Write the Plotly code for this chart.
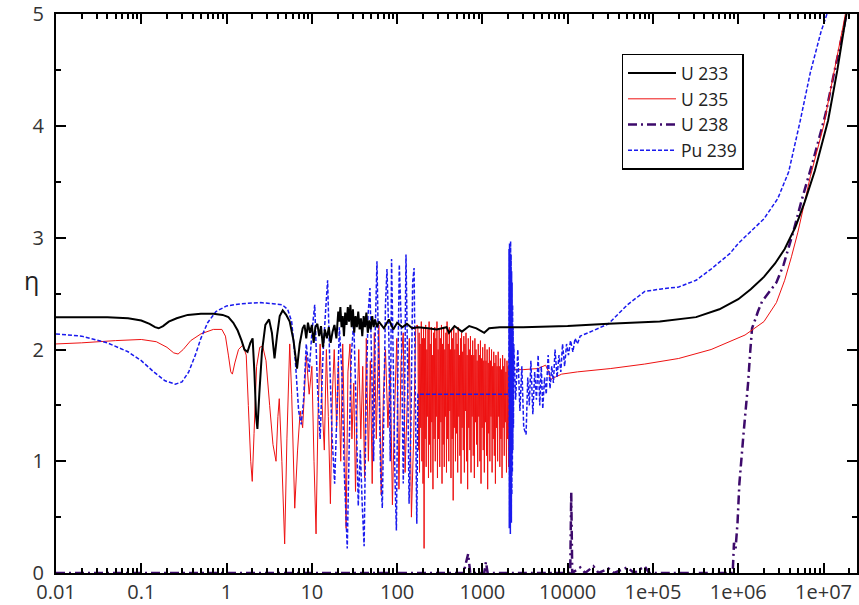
import plotly.graph_objects as go

# ---------------- data ----------------
u233_E = [0.01, 0.02, 0.04, 0.07, 0.1, 0.125, 0.145, 0.16, 0.18, 0.21, 0.26, 0.35, 0.5, 0.7, 0.9,
          1.05, 1.2, 1.35, 1.5, 1.62, 1.76, 1.9, 2.02, 2.12, 2.22, 2.3, 2.42, 2.6, 2.85, 3.15, 3.4,
          3.65, 3.9, 4.2, 4.55, 5.0, 5.5, 6.1, 6.7, 7.2, 7.8,
          8.2, 8.6, 9.0, 9.5, 10.0, 10.5, 11.0, 11.6, 12.2, 12.8, 13.5, 14.2, 15.0, 15.8, 16.6,
          17.5, 18.4, 19.4, 20.4, 21.0, 21.6, 22.3, 23.0, 23.8, 24.6, 25.5, 26.4, 27.3, 28.3,
          29.3, 30.3, 31.4, 32.5, 33.7, 35.0, 36.3, 37.6, 39.0, 40.5, 42.0, 43.6, 45.3, 47.0,
          49.0, 51.0, 53.0, 55.0, 58.0, 61.0, 70, 80, 90, 100, 115, 130, 150, 175, 230, 290,
          380, 405, 470, 575, 700, 850, 1050, 1200, 1600, 3000, 1e4, 3e4, 1.2e5, 3.2e5, 6e5,
          1e6, 1.4e6, 2e6, 2.7e6, 3.5e6, 4.7e6, 6e6, 7.9e6, 1.13e7, 1.45e7, 1.76e7, 1.9e7]
u233_eta = [2.29, 2.29, 2.29, 2.28, 2.26, 2.23, 2.2, 2.19, 2.21, 2.25, 2.28, 2.31, 2.32, 2.32, 2.31,
            2.29, 2.24, 2.17, 2.08, 2.0, 1.98, 2.06, 2.1, 1.8, 1.4, 1.29, 1.6, 1.98, 2.22, 2.27, 2.15,
            1.92, 2.12, 2.3, 2.35, 2.31, 2.25, 2.08, 1.83, 2.05, 2.19,
            2.22, 2.1, 2.24, 2.15, 2.22, 2.06, 2.2, 2.23, 2.12, 2.21, 2.02, 2.18, 2.1, 2.2, 2.06,
            2.16, 2.22, 2.1, 2.34, 2.25, 2.38, 2.2, 2.3, 2.12, 2.33, 2.22, 2.38, 2.25, 2.4,
            2.2, 2.36, 2.15, 2.3, 2.2, 2.34, 2.18, 2.28, 2.12, 2.3, 2.2, 2.33, 2.15, 2.26,
            2.18, 2.3, 2.2, 2.27, 2.2, 2.25, 2.19, 2.27, 2.18, 2.24, 2.2, 2.23, 2.19, 2.2, 2.19, 2.18,
            2.2, 2.15, 2.21, 2.16, 2.21, 2.19, 2.15, 2.19, 2.2, 2.2, 2.21, 2.23, 2.25, 2.29, 2.36,
            2.45, 2.54, 2.65, 2.77, 2.9, 3.1, 3.32, 3.6, 4.05, 4.5, 4.9, 5.05]

u235_low_E = [0.01, 0.02, 0.05, 0.1, 0.15, 0.2, 0.24, 0.27, 0.31, 0.38, 0.5, 0.7, 0.88, 0.97, 1.05,
              1.12, 1.17, 1.25, 1.38, 1.55, 1.7, 1.8, 1.92, 2.0, 2.1, 2.25, 2.45, 2.65, 2.9, 3.2, 3.5,
              3.8, 4.0, 4.15, 4.45, 4.8, 5.1, 5.5, 5.8, 6.3, 6.8, 7.3, 7.8, 8.6, 9.3, 10.0, 10.6,
              11.2, 11.8, 12.5, 13.2, 14.0, 14.8, 15.6, 16.5, 17.4, 18.3, 19.5, 20.5, 21.8, 23.0,
              24.2, 25.2, 26.5, 28.0, 29.5, 31.0, 32.5, 34.0, 35.5, 37.5, 39.5, 41.5, 43.5, 46.0,
              48.5, 51.0, 54.0, 57.0, 61.0, 65.0, 69.0, 73.0, 78.0, 83.0, 88.0, 93.0, 99.0, 105,
              111, 118, 124, 131, 139, 147, 156, 165, 172]
u235_low_eta = [2.05, 2.06, 2.08, 2.09, 2.07, 2.02, 1.97, 1.96, 2.0, 2.08, 2.14, 2.18, 2.18, 2.12, 1.95,
                1.8, 1.78, 1.88, 2.0, 2.04, 1.95, 1.5, 1.0, 0.82, 1.25, 1.85, 2.02, 2.03, 1.9, 1.5, 1.15,
                1.0, 1.4, 1.56, 1.0, 0.26, 1.2, 2.05, 1.6, 0.58, 1.1, 1.45, 1.3, 1.95, 1.6, 1.85, 1.0,
                0.35, 1.4, 2.05, 1.5, 1.1, 2.0, 1.4, 0.62, 1.6, 2.0, 1.3, 1.9, 1.0, 2.05,
                1.2, 0.4, 1.8, 2.05, 1.2, 1.7, 0.73, 1.5, 2.0, 1.2, 1.85, 0.85, 2.1, 1.0,
                1.9, 0.8, 2.15, 1.2, 2.22, 0.7, 1.6, 2.0, 1.3, 1.85, 0.61, 1.4, 2.1, 0.75,
                1.9, 2.15, 0.9, 1.5, 2.1, 0.5, 1.2, 2.2, 2.22]

u235_dense_E = [175, 178, 181, 183, 186, 189, 192, 195, 198, 201,
                204, 207, 210, 213, 216, 219, 223, 226, 230, 233,
                237, 240, 244, 248, 252, 255, 259, 263, 267, 271,
                276, 280, 284, 288, 293, 297, 302, 306, 311, 316,
                321, 326, 331, 336, 341, 346, 351, 357, 362, 368,
                373, 379, 385, 391, 397, 403, 409, 415, 421, 428,
                434, 441, 448, 454, 461, 468, 475, 483, 490, 497,
                505, 513, 520, 528, 536, 544, 553, 561, 569, 578,
                587, 596, 605, 614, 623, 632, 642, 652, 661, 671,
                682, 692, 702, 713, 724, 735, 746, 757, 769, 780,
                792, 804, 816, 829, 841, 854, 867, 880, 893, 907,
                920, 934, 948, 963, 977, 992, 1007, 1022, 1037, 1053,
                1069, 1085, 1101, 1118, 1135, 1152, 1169, 1187, 1205, 1223,
                1241, 1260, 1279, 1298, 1318, 1338, 1358, 1378, 1399, 1420,
                1441, 1463, 1485, 1507, 1530, 1553, 1576, 1600, 1624, 1648,
                1673, 1698, 1724, 1750, 1776, 1803, 1830, 1857, 1885, 1914,
                1942, 1972, 2001, 2031, 2062, 2093, 2125]
u235_dense_eta = [2.2, 1.1, 2.15, 0.9, 2.05, 1.3, 2.25, 1.0, 2.1, 0.8,
                  2.2, 0.22, 2.1, 1.2, 2.22, 0.95, 2.0, 1.4, 2.18, 0.85,
                  2.25, 1.15, 2.05, 0.9, 2.2, 1.35, 1.95, 0.75, 2.15, 1.2,
                  2.2, 1.0, 2.1, 1.4, 2.25, 0.85, 2.0, 1.2, 2.18, 0.95,
                  2.1, 1.35, 2.22, 0.8, 2.05, 1.15, 2.2, 0.95, 2.0, 1.4,
                  2.15, 0.9, 2.25, 1.2, 2.05, 1.0, 2.2, 1.45, 2.0, 0.85,
                  2.18, 1.2, 2.1, 0.65, 2.2, 1.3, 2.0, 1.0, 2.15, 1.25,
                  2.05, 0.9, 2.2, 1.4, 1.95, 1.05, 2.1, 0.8, 2.15, 1.3,
                  1.98, 1.1, 2.12, 0.9, 2.05, 1.45, 2.15, 1.0, 1.95, 0.75,
                  2.1, 1.3, 2.0, 1.1, 2.12, 0.9, 1.95, 1.4, 2.08, 1.05,
                  1.95, 0.85, 2.1, 1.35, 2.0, 1.15, 1.9, 0.95, 2.05, 1.4,
                  1.95, 1.0, 2.08, 0.8, 1.92, 1.3, 2.02, 1.1, 1.9, 0.9,
                  2.05, 1.35, 1.9, 1.05, 2.0, 0.75, 1.88, 1.25, 2.02, 1.0,
                  1.9, 1.4, 2.0, 0.9, 1.85, 1.2, 1.98, 1.05, 1.88, 0.8,
                  1.95, 1.3, 1.85, 1.0, 1.98, 1.4, 1.85, 0.95, 1.92, 1.2,
                  1.82, 0.85, 1.95, 1.3, 1.85, 1.05, 1.92, 1.35, 1.8, 0.9,
                  1.9, 1.2, 1.85, 0.95, 1.9, 0.72, 1.88]

u235_high_E = [2140, 2300, 3000, 4500, 5500, 6000, 6300, 7000, 8500, 1.3e4, 3.2e4, 8e4, 2e5, 4.8e5,
               1.2e6, 2e6, 2.8e6, 3.5e6, 4.2e6, 5e6, 7e6, 1e7, 1.3e7, 1.7e7, 1.85e7]
u235_high_eta = [1.82, 1.82, 1.82, 1.83, 1.86, 1.8, 1.73, 1.75, 1.78, 1.8, 1.83, 1.87, 1.92, 2.0,
                 2.13, 2.25, 2.42, 2.62, 2.83, 3.05, 3.55, 4.0, 4.45, 4.9, 5.05]

u238_E = [0.01, 600, 680, 720, 1050, 1100, 1150, 1.07e4, 1.1e4, 1.13e4, 1.4e4, 1.6e4, 2.0e4, 2.3e4,
          3e4, 3.5e4, 5e4, 6e4, 8e4, 9e4, 8.6e5, 8.9e5, 9.3e5, 9.8e5, 1.03e6, 1.15e6, 1.3e6, 1.38e6,
          1.45e6, 1.6e6, 1.7e6, 1.9e6, 2.8e6, 3.4e6, 4.4e6, 5.6e6, 7.6e6, 1.05e7, 1.35e7, 1.75e7, 1.9e7]
u238_eta = [0, 0, 0.17, 0, 0, 0.1, 0, 0, 0.72, 0, 0.05, 0, 0.06, 0,
            0.04, 0, 0.05, 0, 0.06, 0, 0, 0.27, 0.22, 0.45, 0.8, 1.24, 1.69, 1.98,
            2.19, 2.28, 2.34, 2.43, 2.6, 2.76, 3.05, 3.35, 3.7, 4.1, 4.5, 4.9, 5.05]

pu239_E = [0.01, 0.02, 0.04, 0.07, 0.1, 0.14, 0.19, 0.25, 0.3, 0.36, 0.43, 0.5, 0.6, 0.75, 1.0,
           1.5, 2.5, 3.5, 4.5, 5.2, 5.8, 6.4, 7.0, 7.5, 8.0, 8.6, 9.3, 10.0, 10.8, 11.6, 12.5,
           13.5, 14.5, 15.3, 16.2, 17.3, 18.5, 19.8, 21.0, 22.5, 24.0, 26.0, 27.5, 29.0, 31.0,
           33.0, 35.0, 37.0, 39.0, 41.0, 43.0, 45.5, 48.0, 50.5, 53.0, 55.5, 58.0, 61.0, 64.0,
           67.0, 70.0, 73.0, 76.0, 80.0, 83.0, 86.0, 90.0, 94.0, 98.0, 102, 106, 112, 118, 122,
           127, 132, 138, 145, 152, 158, 164, 170, 175, 2040,
           2050, 2065, 2080, 2095, 2110, 2125, 2140, 2155, 2170, 2185, 2200, 2215, 2230, 2245,
           2260, 2275, 2290, 2310, 2330,
           2450, 2600, 2750, 2900, 3050, 3250, 3400, 3550, 3700, 3900, 4100, 4300, 4500, 4700,
           4900, 5100, 5350, 5600, 5900, 6200, 6500, 6800, 7100, 7500, 7900, 8300, 8700, 9200,
           9700, 10200, 10800, 11500, 12200, 13000, 14000, 20000, 30000, 50000, 80000, 1.2e5,
           2e5, 3.2e5, 4.8e5, 8e5, 1e6, 2e6, 2.9e6, 3.9e6, 5.3e6, 7e6, 9.3e6, 1.15e7]
pu239_eta = [2.14, 2.12, 2.06, 1.98, 1.9, 1.8, 1.72, 1.69, 1.71, 1.8, 1.95, 2.1, 2.24, 2.34, 2.39,
             2.41, 2.42, 2.41, 2.4, 2.36, 2.25, 1.9, 1.45, 1.33, 1.55, 2.05, 1.8, 2.15, 2.4, 1.7, 1.2,
             1.95, 2.35, 2.62, 1.9, 1.2, 0.8, 1.5, 2.2, 1.8, 0.9, 0.22, 1.2, 1.95, 2.25,
             1.5, 0.6, 1.1, 0.6, 0.24, 1.4, 2.3, 2.55, 1.8, 1.0, 2.2, 2.79, 1.8, 0.9,
             0.58, 1.5, 2.4, 2.72, 2.1, 1.0, 2.81, 1.9, 0.9, 0.38, 1.8, 2.76, 2.2, 0.8, 1.5,
             2.85, 2.0, 0.62, 1.3, 2.6, 2.73, 1.5, 0.44, 1.6, 1.6,
             2.9, 0.4, 2.95, 0.5, 2.8, 0.35, 2.97, 0.6, 2.85, 0.45, 2.7, 0.7, 2.6, 0.9,
             2.4, 1.1, 2.2, 1.3, 2.05,
             1.55, 2.0, 1.45, 1.85, 1.3, 1.24, 1.75, 1.5, 1.9, 1.42, 1.8, 1.55, 1.95, 1.5,
             1.85, 1.47, 1.75, 1.6, 1.95, 1.65, 1.85, 1.7, 2.0, 1.75, 1.95, 1.8, 2.05, 1.85,
             2.05, 1.95, 2.08, 1.98, 2.1, 2.05, 2.12, 2.17, 2.23, 2.4, 2.52, 2.54,
             2.56, 2.62, 2.72, 2.86, 2.95, 3.17, 3.35, 3.59, 4.04, 4.48, 4.84, 5.05]

x_tickvals = [0.01, 0.1, 1, 10, 100, 1000, 10000, 1e5, 1e6, 1e7]
x_ticktext = ["0.01", "0.1", "1", "10", "100", "1000", "10000", "1e+05", "1e+06", "1e+07"]
y_tickvals = [0, 1, 2, 3, 4, 5]

u235_E = u235_low_E + u235_dense_E + u235_high_E
u235_eta = u235_low_eta + u235_dense_eta + u235_high_eta

# ---------------- figure ----------------
FONT = "Open Sans"
fig = go.Figure()

fig.add_trace(go.Scatter(x=u238_E, y=u238_eta, mode="lines", name="U 238", legendrank=3,
                         line=dict(color="#3d0a6b", width=2.5, dash="9px,4px,2px,4px", simplify=False)))
fig.add_trace(go.Scatter(x=u235_E, y=u235_eta, mode="lines", name="U 235", legendrank=2,
                         line=dict(color="#ee1111", width=1, simplify=False)))
fig.add_trace(go.Scatter(x=pu239_E, y=pu239_eta, mode="lines", name="Pu 239", legendrank=4,
                         line=dict(color="#1a1aee", width=1.5, dash="4px,2px", simplify=False)))
fig.add_trace(go.Scatter(x=u233_E, y=u233_eta, mode="lines", name="U 233", legendrank=1,
                         line=dict(color="black", width=2, simplify=False)))

minor_x = [m * 10 ** k for k in range(-2, 8) for m in range(2, 10)]

fig.update_xaxes(type="log", range=[-2, 7.392], tickvals=x_tickvals, ticktext=x_ticktext,
                 ticks="inside", ticklen=10, tickwidth=2, tickcolor="black",
                 minor=dict(tickvals=minor_x, ticks="inside", ticklen=5, tickwidth=1.5, tickcolor="black"),
                 showline=True, linecolor="black", linewidth=2, mirror="ticks",
                 showgrid=False, zeroline=False, ticklabeloverflow="allow",
                 tickfont=dict(family=FONT, size=20, color="#333333"))
fig.update_yaxes(range=[0, 5.003], tickvals=y_tickvals,
                 ticks="inside", ticklen=10, tickwidth=2, tickcolor="black",
                 minor=dict(dtick=0.5, ticks="inside", ticklen=5, tickwidth=1.5, tickcolor="black"),
                 showline=True, linecolor="black", linewidth=2, mirror="ticks",
                 showgrid=False, zeroline=False, ticklabelstandoff=6, ticklabeloverflow="allow",
                 tickfont=dict(family=FONT, size=20, color="#333333"))

fig.add_annotation(text="η", xref="paper", yref="y", x=-0.042, y=2.62, showarrow=False,
                   font=dict(family=FONT, size=25, color="#222222"))

fig.update_layout(
    width=859, height=605,
    margin=dict(l=56, r=0, t=12, b=32),
    paper_bgcolor="white", plot_bgcolor="white",
    showlegend=True,
    legend=dict(x=0.706, y=0.929, xanchor="left", yanchor="top",
                bgcolor="white", bordercolor="black", borderwidth=1.5,
                font=dict(family=FONT, size=17.5, color="#222222"),
                itemwidth=48, tracegroupgap=0),
)

fig.write_html("out.html")
